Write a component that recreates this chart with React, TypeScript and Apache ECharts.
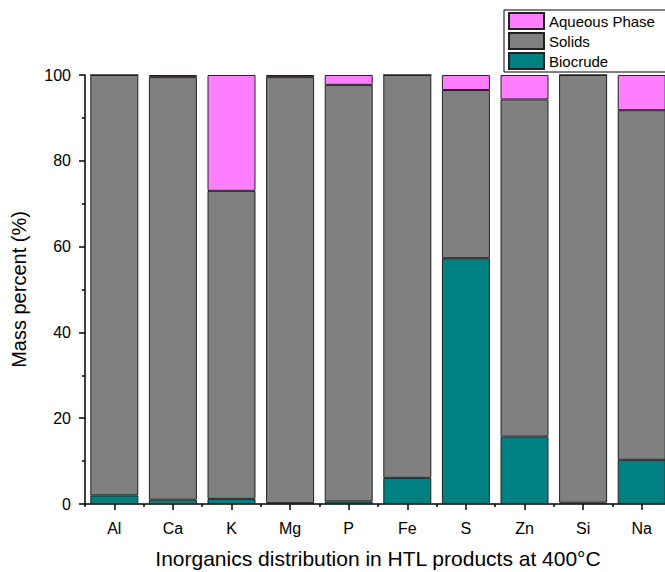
import React, { useEffect, useRef } from "react";
import * as echarts from "echarts";

const categories = ["Al", "Ca", "K", "Mg", "P", "Fe", "S", "Zn", "Si", "Na"];
const biocrude = [2.0, 1.0, 1.2, 0.2, 0.6, 6.1, 57.3, 15.7, 0.3, 10.3];
const solids = [98.0, 98.5, 71.8, 99.3, 97.1, 93.9, 39.2, 78.6, 99.7, 81.5];
const aqueous = [0.0, 0.5, 27.0, 0.5, 2.3, 0.0, 3.5, 5.7, 0.0, 8.2];
const yTicks = { min: 0, max: 100, interval: 20 };

const FONT = "Liberation Sans";

export default function App() {
  const ref = useRef<HTMLDivElement>(null);
  useEffect(() => {
    if (!ref.current) return;
    const chart = echarts.init(ref.current, null, { renderer: "svg" });
    const border = { borderColor: "#222", borderWidth: 1 };
    chart.setOption({
      animation: false,
      backgroundColor: "#fff",
      textStyle: { fontFamily: FONT, color: "#000" },
      grid: { left: 85, top: 75, width: 586, bottom: 68, containLabel: false, outerBoundsMode: "none" },
      legend: {
        data: ["Aqueous Phase", "Solids", "Biocrude"],
        orient: "vertical",
        left: 504,
        top: 10,
        itemWidth: 35,
        itemHeight: 16,
        itemGap: 2,
        padding: [2, 14, 2, 4],
        borderColor: "#000",
        borderWidth: 1,
        icon: "rect",
        textStyle: { fontFamily: FONT, fontSize: 15, lineHeight: 16, color: "#000", padding: [0, 0, 0, 0] },
      },
      xAxis: [
        {
          type: "category",
          data: categories,
          position: "bottom",
          name: "Inorganics distribution in HTL products at 400°C",
          nameLocation: "middle",
          nameGap: 44,
          nameTextStyle: { fontFamily: FONT, fontSize: 21, color: "#000" },
          axisLine: { show: true, lineStyle: { color: "#000", width: 1.5 } },
          axisTick: { show: true, alignWithLabel: true, length: 6, lineStyle: { color: "#000", width: 1.5 } },
          axisLabel: { fontFamily: FONT, fontSize: 16, color: "#000", margin: 16 },
          splitLine: { show: false },
        },
        {
          type: "category",
          data: categories,
          position: "bottom",
          axisLine: { show: false },
          axisTick: { show: true, alignWithLabel: false, length: 3, lineStyle: { color: "#000", width: 1.5 } },
          axisLabel: { show: false },
          splitLine: { show: false },
        },
      ],
      yAxis: {
        type: "value",
        min: yTicks.min,
        max: yTicks.max,
        interval: yTicks.interval,
        name: "Mass percent (%)",
        nameLocation: "middle",
        nameGap: 56,
        nameTextStyle: { fontFamily: FONT, fontSize: 20, color: "#000" },
        axisLine: { show: true, lineStyle: { color: "#000", width: 1.5 } },
        axisTick: { show: true, length: 6, lineStyle: { color: "#000", width: 1.5 } },
        minorTick: { show: true, splitNumber: 2, length: 3, lineStyle: { color: "#000", width: 1.5 } },
        axisLabel: { fontFamily: FONT, fontSize: 16, color: "#000", margin: 14 },
        splitLine: { show: false },
      },
      series: [
        {
          name: "Biocrude",
          type: "bar",
          stack: "total",
          barWidth: 48,
          data: biocrude,
          itemStyle: { color: "#008080", ...border },
        },
        {
          name: "Solids",
          type: "bar",
          stack: "total",
          barWidth: 48,
          data: solids,
          itemStyle: { color: "#808080", ...border },
        },
        {
          name: "Aqueous Phase",
          type: "bar",
          stack: "total",
          barWidth: 48,
          data: aqueous,
          itemStyle: { color: "#FF80FF", ...border },
        },
      ],
    });
    return () => chart.dispose();
  }, []);
  return <div ref={ref} style={{ width: 665, height: 572, position: "absolute", left: 0, top: 0 }} />;
}
